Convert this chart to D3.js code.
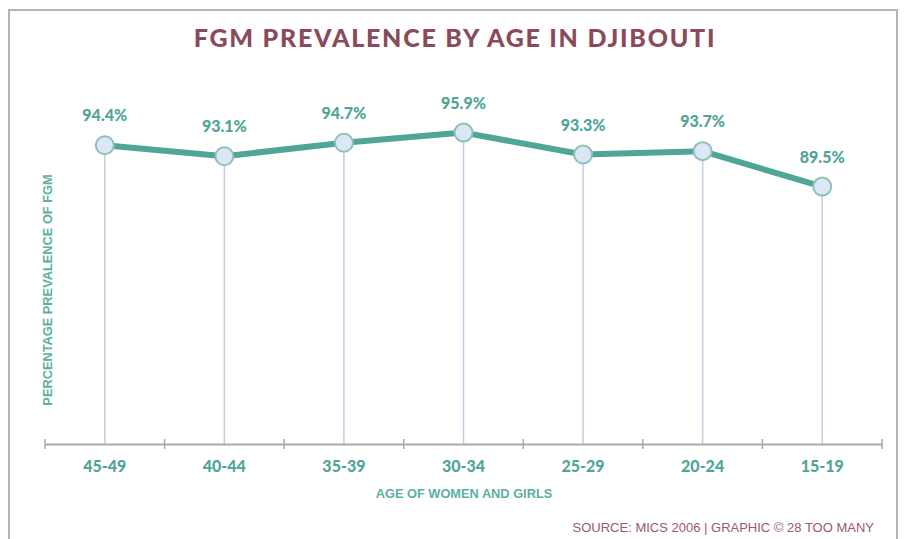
<!DOCTYPE html>
<html>
<head>
<meta charset="utf-8">
<script src="https://cdn.jsdelivr.net/npm/d3@7"></script>
<style>
  body { margin: 0; background: #fff; }
  svg { display: block; }
</style>
</head>
<body>
<div class="container"></div>
<script>
const ageGroups = ['45-49', '40-44', '35-39', '30-34', '25-29', '20-24', '15-19'];
const prevalence = [94.4, 93.1, 94.7, 95.9, 93.3, 93.7, 89.5];

const width = 905;
const height = 539;
const teal = '#4fa597';
const maroon = '#8b4a5a';

const svg = d3
  .select('.container')
  .append('svg')
  .attr('width', width)
  .attr('height', height);

// frame
svg
  .append('path')
  .attr('d', `M9,${height + 5} V10 H897 V${height + 5}`)
  .attr('fill', 'none')
  .attr('stroke', '#b4b4b4')
  .attr('stroke-width', 2);

svg
  .append('text')
  .attr('x', 455)
  .attr('y', 47)
  .attr('text-anchor', 'middle')
  .attr('fill', maroon)
  .style('font-family', 'Lato')
  .style('font-weight', 900)
  .style('font-size', '25px')
  .style('letter-spacing', '1.75px')
  .text('FGM PREVALENCE BY AGE IN DJIBOUTI');

const x = d3.scaleBand().domain(ageGroups).range([45, 882]);
const y = d3.scaleLinear().domain([59, 100]).range([444, 98]);

const data = ageGroups.map((a, i) => ({ age: a, value: prevalence[i] }));
const cx = d => x(d.age) + x.bandwidth() / 2;

const graph = svg.append('g').attr('class', 'graph');

// drop lines
graph
  .selectAll('.drop')
  .data(data)
  .enter()
  .append('line')
  .attr('class', 'drop')
  .attr('x1', cx)
  .attr('x2', cx)
  .attr('y1', d => y(d.value))
  .attr('y2', y(59))
  .attr('stroke', '#c3cde0')
  .attr('stroke-width', 1.5);

// x axis
const xAxis = graph
  .append('g')
  .attr('class', 'x-axis')
  .attr('transform', `translate(0, ${y(59)})`)
  .call(d3.axisBottom(x).tickSize(0).tickFormat(''));

xAxis.select('.domain').attr('stroke', '#a9a9a9').attr('stroke-width', 2);

const edges = ageGroups.map(a => x(a)).concat([x.range()[1]]);
xAxis
  .selectAll('.edge')
  .data(edges)
  .enter()
  .append('line')
  .attr('x1', d => d)
  .attr('x2', d => d)
  .attr('y1', -5)
  .attr('y2', 5)
  .attr('stroke', '#a9a9a9')
  .attr('stroke-width', 1.5);

xAxis
  .selectAll('.cat')
  .data(ageGroups)
  .enter()
  .append('text')
  .attr('x', d => x(d) + x.bandwidth() / 2)
  .attr('y', 28)
  .attr('text-anchor', 'middle')
  .attr('fill', teal)
  .style('font-family', 'Lato')
  .style('font-weight', 900)
  .style('font-size', '16px')
  .text(d => d);

// line
graph
  .append('path')
  .datum(data)
  .attr('fill', 'none')
  .attr('stroke', teal)
  .attr('stroke-width', 6)
  .attr('stroke-linejoin', 'round')
  .attr('d', d3.line().x(cx).y(d => y(d.value)));

graph
  .selectAll('.dot')
  .data(data)
  .enter()
  .append('circle')
  .attr('cx', cx)
  .attr('cy', d => y(d.value))
  .attr('r', 9)
  .attr('fill', '#dbe6f6')
  .attr('stroke', '#8fc0b8')
  .attr('stroke-width', 2);

graph
  .selectAll('.val')
  .data(data)
  .enter()
  .append('text')
  .attr('x', cx)
  .attr('y', d => y(d.value) - 24)
  .attr('text-anchor', 'middle')
  .attr('fill', teal)
  .style('font-family', 'Lato')
  .style('font-weight', 900)
  .style('font-size', '16px')
  .text(d => `${d.value}%`);

// axis titles
svg
  .append('text')
  .attr('transform', 'translate(52, 290) rotate(-90)')
  .attr('text-anchor', 'middle')
  .attr('fill', '#5cb0a3')
  .style('font-family', 'Liberation Sans')
  .style('font-weight', 'bold')
  .style('font-size', '12.8px')
  .text('PERCENTAGE PREVALENCE OF FGM');

svg
  .append('text')
  .attr('x', 464)
  .attr('y', 498)
  .attr('text-anchor', 'middle')
  .attr('fill', '#5cb0a3')
  .style('font-family', 'Liberation Sans')
  .style('font-weight', 'bold')
  .style('font-size', '12.8px')
  .text('AGE OF WOMEN AND GIRLS');

svg
  .append('text')
  .attr('x', 874)
  .attr('y', 532)
  .attr('text-anchor', 'end')
  .attr('fill', '#9a5b67')
  .style('font-family', 'Liberation Sans')
  .style('font-size', '13px')
  .text('SOURCE: MICS 2006 | GRAPHIC © 28 TOO MANY');
</script>
</body>
</html>
